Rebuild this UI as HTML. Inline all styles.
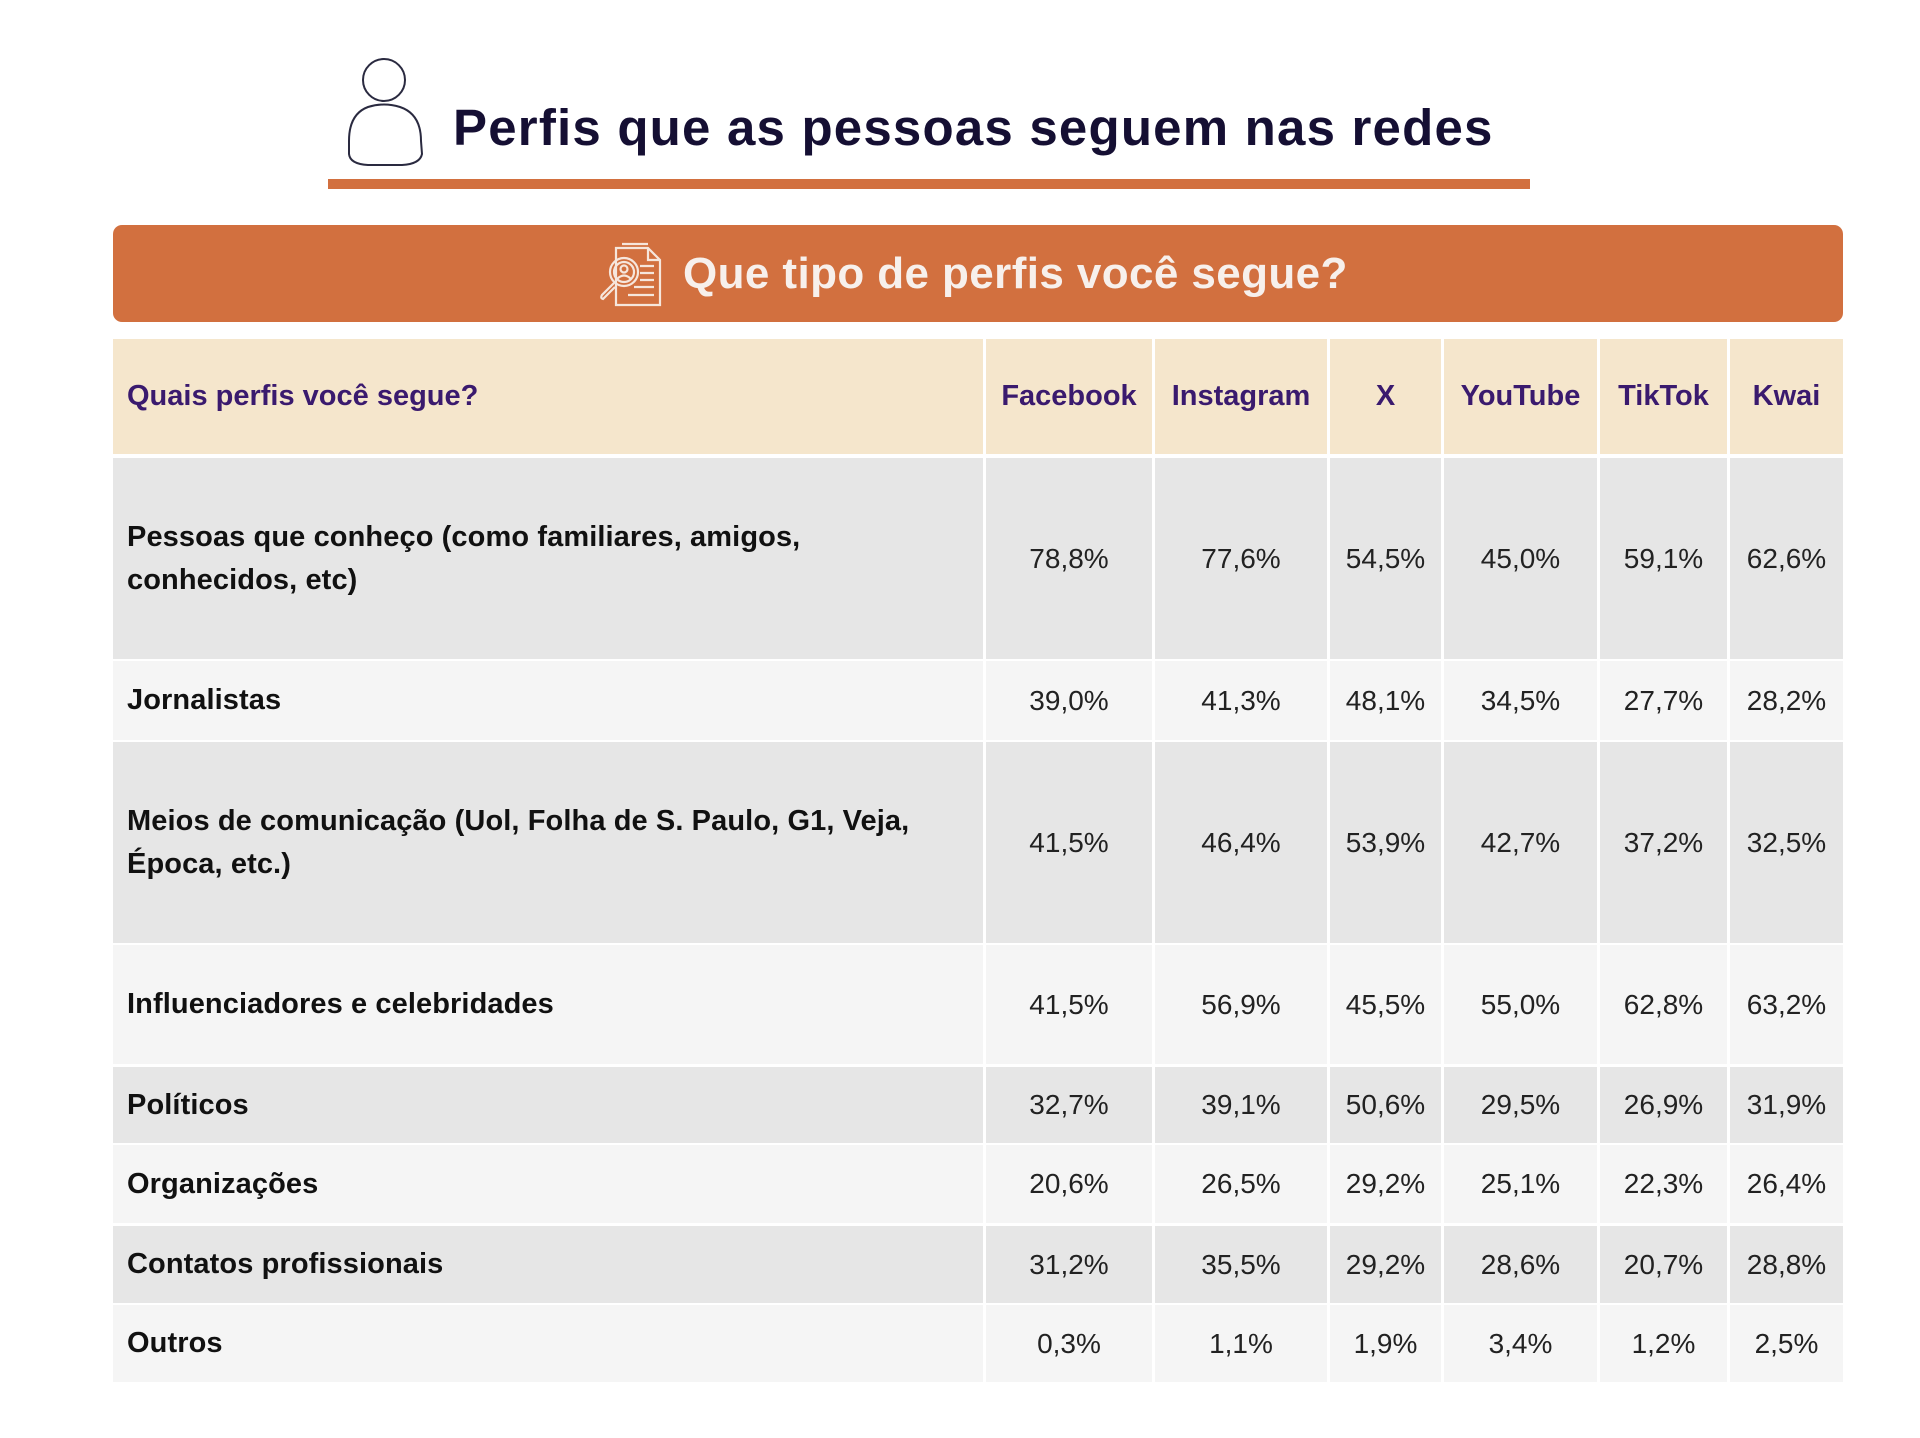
<!DOCTYPE html>
<html><head><meta charset="utf-8">
<style>
html,body{margin:0;padding:0;background:#fff;}
body{width:1920px;height:1438px;position:relative;overflow:hidden;font-family:"Liberation Sans",Arial,sans-serif;}
.abs{position:absolute;}
.cell{position:absolute;display:flex;align-items:center;box-sizing:border-box;}
.lbl{padding-left:14px;font-weight:bold;font-size:29px;color:#111;line-height:43px;letter-spacing:0.1px;white-space:nowrap;}
.val{justify-content:center;font-size:28px;color:#222;letter-spacing:0px;}
.hd{font-weight:bold;font-size:29px;color:#3a1a6e;letter-spacing:0px;}
</style></head>
<body>
<svg class="abs" style="left:346px;top:56px" width="80" height="112">
  <ellipse cx="38" cy="24" rx="21" ry="21" fill="none" stroke="#2a2a40" stroke-width="2"/>
  <path d="M22 51 Q38 46 54 51 Q75 58 75 85 L76 98 Q74 108 56 109 L22 109 Q4 108 3 98 L3 85 Q3 58 22 51 Z" fill="none" stroke="#2a2a40" stroke-width="2"/>
</svg>
<div class="abs" style="left:453px;top:98px;font-size:51px;font-weight:bold;color:#150f33;letter-spacing:1.2px;white-space:nowrap;">Perfis que as pessoas seguem nas redes</div>
<div class="abs" style="left:328px;top:179px;width:1202px;height:10px;background:#d2703f;"></div>

<div class="abs" style="left:113px;top:225px;width:1730px;height:97px;background:#d2703f;border-radius:9px;"></div>
<svg class="abs" style="left:594px;top:240px" width="72" height="70" fill="none" stroke="#f6e6dc" stroke-width="2.2">
  <path d="M22 8 L54 8 L66 20 L66 65 L22 65 Z"/>
  <path d="M28 4 L54 4"/>
  <path d="M54 8 L54 20 L66 20"/>
  <circle cx="30" cy="32" r="14"/>
  <circle cx="30" cy="32" r="10"/>
  <circle cx="30" cy="29" r="3.5"/>
  <path d="M23 39 Q30 32 37 39"/>
  <path d="M20 43 L8 55 Q6 58 9 59 L21 47"/>
  <path d="M46 26 L60 26 M46 33 L60 33 M46 40 L60 40 M40 47 L60 47 M34 55 L60 55"/>
</svg>
<div class="abs" style="left:683px;top:249px;font-size:44px;font-weight:bold;color:#f7f0ec;letter-spacing:0.4px;white-space:nowrap;">Que tipo de perfis você segue?</div>

<div id="table"></div>

<script>
const platforms = ["Facebook","Instagram","X","YouTube","TikTok","Kwai"];
const categories = [
  "Pessoas que conheço (como familiares, amigos,<br>conhecidos, etc)",
  "Jornalistas",
  "Meios de comunicação (Uol, Folha de S. Paulo, G1, Veja,<br>Época, etc.)",
  "Influenciadores e celebridades",
  "Políticos",
  "Organizações",
  "Contatos profissionais",
  "Outros"
];
const valFacebook = ["78,8%","39,0%","41,5%","41,5%","32,7%","20,6%","31,2%","0,3%"];
const valInstagram = ["77,6%","41,3%","46,4%","56,9%","39,1%","26,5%","35,5%","1,1%"];
const valX = ["54,5%","48,1%","53,9%","45,5%","50,6%","29,2%","29,2%","1,9%"];
const valYouTube = ["45,0%","34,5%","42,7%","55,0%","29,5%","25,1%","28,6%","3,4%"];
const valTikTok = ["59,1%","27,7%","37,2%","62,8%","26,9%","22,3%","20,7%","1,2%"];
const valKwai = ["62,6%","28,2%","32,5%","63,2%","31,9%","26,4%","28,8%","2,5%"];
const series = [valFacebook,valInstagram,valX,valYouTube,valTikTok,valKwai];

const colEdges = [113,986,1155,1330,1444,1600,1730,1843];
const rowEdges = [[339,454],[458,659],[661,740],[742,943],[945,1064],[1067,1143],[1145,1223],[1226,1303],[1305,1382]];
const root = document.getElementById('table');
function cell(x0,x1,y0,y1,bg,cls,html,last){
  const d=document.createElement('div');
  d.className='cell '+cls;
  d.style.left=(x0)+'px';d.style.width=(x1-x0-(last?0:3))+'px';
  d.style.top=y0+'px';d.style.height=(y1-y0)+'px';
  d.style.background=bg;d.innerHTML=html;
  root.appendChild(d);return d;
}
let h=cell(colEdges[0],colEdges[1],rowEdges[0][0],rowEdges[0][1],'#f5e6cc','hd lbl','Quais perfis você segue?');
h.style.color='#3a1a6e';


platforms.forEach((p,i)=>{
  const c=cell(colEdges[i+1],colEdges[i+2],rowEdges[0][0],rowEdges[0][1],'#f5e6cc','hd val',p,i===platforms.length-1);
  c.style.color='#3a1a6e';c.style.fontSize='29px';c.style.fontWeight='bold';
  
  
});
categories.forEach((cat,r)=>{
  const [y0,y1]=rowEdges[r+1];
  const bg = r%2===0 ? '#e6e6e6' : '#f5f5f5';
  const l=cell(colEdges[0],colEdges[1],y0,y1,bg,'lbl','<span>'+cat+'</span>');
  
  
  series.forEach((s,i)=>{
    const c=cell(colEdges[i+1],colEdges[i+2],y0,y1,bg,'val',s[r],i===series.length-1);
    
    
  });
});
</script>
</body></html>
